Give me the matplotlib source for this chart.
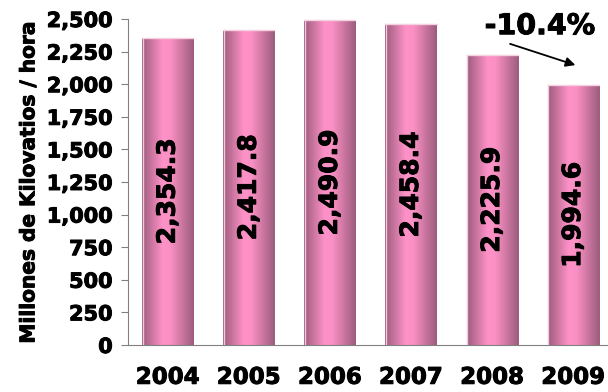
import matplotlib.pyplot as plt
import matplotlib.patheffects as pe
import numpy as np
from matplotlib.colors import LinearSegmentedColormap

years = ['2004', '2005', '2006', '2007', '2008', '2009']
values = [2354.3, 2417.8, 2490.9, 2458.4, 2225.9, 1994.6]

# slightly heavier strokes so DejaVu bold looks closer to the original
heavy = [pe.withStroke(linewidth=0.7, foreground='black')]

fig = plt.figure(figsize=(6.08, 3.92), dpi=100)
ax = fig.add_axes([0.2105, 0.12, 0.7895, 0.8315])

cmap = LinearSegmentedColormap.from_list(
    'pinkbar', [(0.0, '#9c5c7c'), (0.4, '#ff92c8'), (0.55, '#fa90c4'), (1.0, '#9c5c7c')])
grad = np.linspace(0, 1, 256).reshape(1, -1)

width = 0.63
x = np.arange(len(years))
bars = ax.bar(x, values, width=width, color='none', edgecolor='none')
for b in bars:
    x0, y0 = b.get_x(), b.get_y()
    w, h = b.get_width(), b.get_height()
    im = ax.imshow(grad, cmap=cmap, aspect='auto', extent=[x0, x0 + w, y0, y0 + h],
                   zorder=2, interpolation='bicubic')
    im.set_clip_path(b)
    ax.plot([x0 + 0.01, x0 + 0.01], [0, h], color='#f4c8dc', lw=1, zorder=3)
    ax.plot([x0, x0 + w], [h, h], color='#f4d0e0', lw=1, zorder=3)

for xi, v in zip(x, values):
    ax.text(xi, v / 2, f'{v:,.1f}', rotation=90, ha='center', va='center',
            fontsize=18, fontweight='bold', color='black', zorder=4, path_effects=heavy)

ax.set_xlim(-0.49, 5.43)
ax.set_ylim(0, 2500)
ax.set_yticks(np.arange(0, 2501, 250))
ax.set_yticklabels([f'{t:,}' for t in range(0, 2501, 250)], fontsize=15, fontweight='bold',
                   path_effects=heavy)
ax.set_xticks(x)
ax.set_xticklabels(years, fontsize=16.5, fontweight='bold', path_effects=heavy)
ax.tick_params(axis='x', length=0, pad=15)
ax.tick_params(axis='y', length=5, color='#808080', pad=6)
ax.set_ylabel('Millones de Kilovatios / hora', fontsize=14.5, fontweight='bold', labelpad=6,
              path_effects=heavy)
for s in ['top', 'right']:
    ax.spines[s].set_visible(False)
for s in ['left', 'bottom']:
    ax.spines[s].set_color('#808080')

ax.annotate('', xy=(5.06, 2140), xytext=(4.19, 2316),
            arrowprops=dict(arrowstyle='-|>', color='black', lw=1.3, mutation_scale=14),
            annotation_clip=False)
ax.text(4.59, 2445, '-10.4%', ha='center', va='center', fontsize=20.5,
        fontweight='bold', clip_on=False, path_effects=heavy)

fig.savefig('out.png', dpi=100)
